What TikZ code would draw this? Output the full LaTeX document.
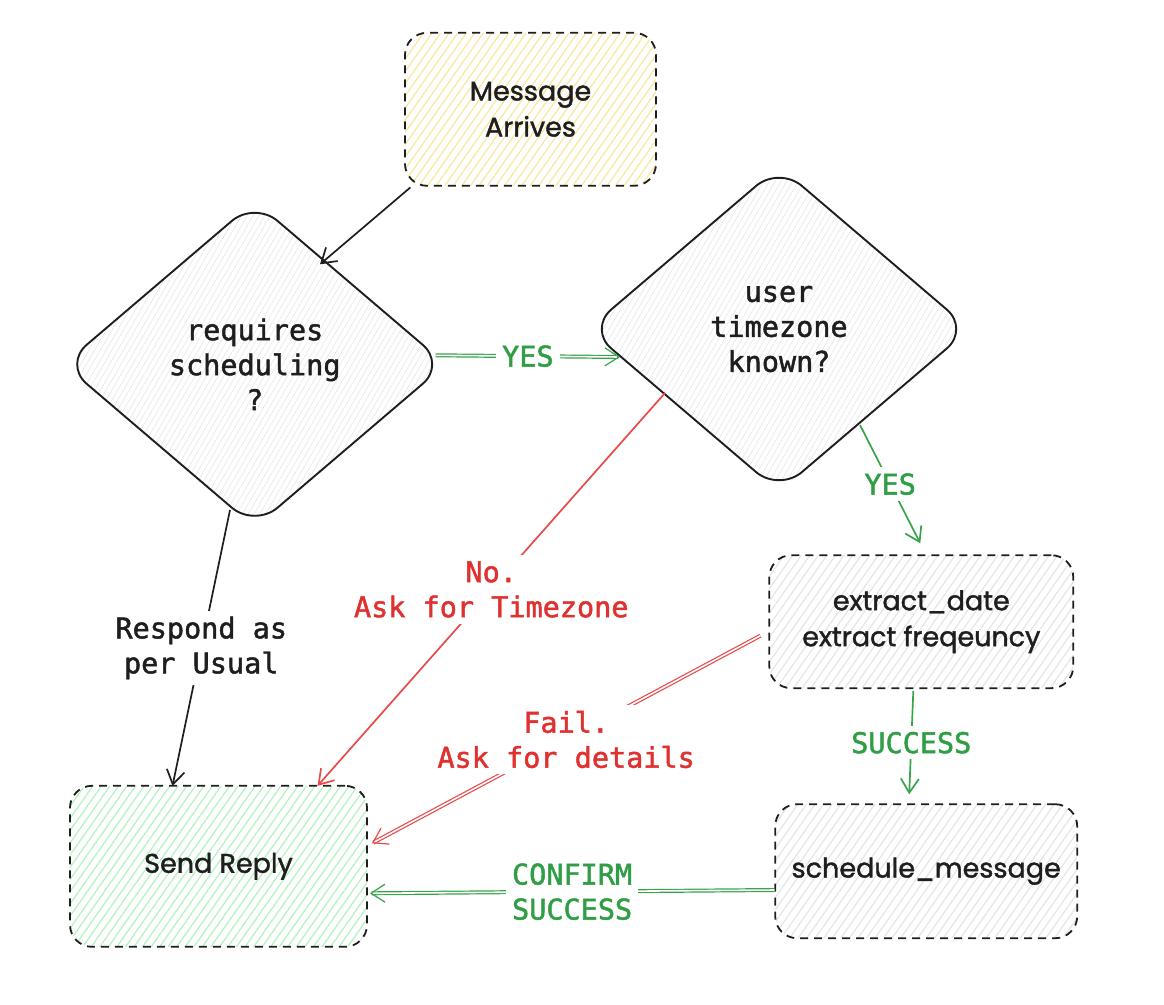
\documentclass[tikz,border=0pt]{standalone}
\usepackage{fontspec}
\setmonofont[FakeBold=1.6]{DejaVu Sans Mono}
\newfontfamily\handfont[FakeBold=1.4]{Poppins}
\usetikzlibrary{shapes.geometric,arrows.meta,patterns.meta,calc}
\definecolor{cgreen}{HTML}{2F9E44}
\definecolor{cred}{HTML}{E03131}
\definecolor{lred}{HTML}{E8494A}
\definecolor{lgreen}{HTML}{37A44B}
\definecolor{hyellow}{HTML}{FCE59A}
\definecolor{hgreen}{HTML}{B2F2BB}
\definecolor{hgray}{HTML}{E3E5E8}
\definecolor{ink}{HTML}{1E1E1E}
\tikzset{
  hbox/.style={draw=ink, line width=1.8pt, dash pattern=on 8pt off 6pt,
    rounded corners=22pt, inner sep=0pt, align=center,
    font=\handfont\fontsize{27}{36}\selectfont, text=ink,
    pattern={Lines[angle=55,distance=7pt,line width=1.2pt]}, pattern color=hgray},
  decision/.style={diamond, draw=ink, line width=1.9pt, rounded corners=30pt,
    inner sep=0pt, align=center, minimum width=382pt, minimum height=326pt,
    font=\ttfamily\fontsize{28.5}{35}\selectfont, text=ink,
    pattern={Lines[angle=60,distance=5pt,line width=0.6pt]}, pattern color=hgray},
  lbl/.style={font=\ttfamily\fontsize{28.5}{35}\selectfont, fill=white,
    inner sep=6pt, align=center},
  arr/.style={line width=1.7pt, -{Straight Barb[length=14pt,width=18pt,line width=1.7pt]}},
  dbl/.style={double=white, double distance=1.6pt, line width=1.2pt,
    -{Straight Barb[length=14pt,width=18pt]}},
}
\begin{document}
\begin{tikzpicture}[x=1pt,y=-1pt]
\useasboundingbox (0,0) rectangle (1164,1004);

% nodes
\node[hbox, pattern color=hyellow, minimum width=251pt, minimum height=153pt]
  (msg) at (530.5,109.3) {Message\\Arrives};
\node[decision] (d1) at (254.7,364.3) {requires\\scheduling\\?};
\node[decision] (d2) at (779,329) {user\\timezone\\known?};
\node[hbox, minimum width=304pt, minimum height=133pt]
  (extract) at (921.3,621.7) {extract\_date\\extract freqeuncy};
\node[hbox, minimum width=302pt, minimum height=134pt]
  (sched) at (926.2,871.2) {schedule\_message};
\node[hbox, pattern color=hgreen, minimum width=297pt, minimum height=161pt]
  (send) at (218.5,866.3) {Send Reply};

% connectors
\draw[arr, ink] ($(msg.south west)+(6,1)$) -- ($(d1)+(65.3,-100)$);

\draw[dbl, lgreen] ($(d1)+(181,-9)$) -- ($(d2)+(-159,28)$)
  node[lbl, midway, text=cgreen] {YES};

\draw[arr, lgreen] ($(d2)+(81,96)$) -- ($(extract.north)+(-1,-11)$)
  node[lbl, midway, text=cgreen] {YES};

\draw[arr, lred] ($(d2)+(-114,64)$) -- ($(send.north)+(99,1)$)
  node[lbl, midway, text=cred] {No.\\Ask for Timezone};

\draw[arr, ink] ($(d1)+(-24.7,145.7)$) -- ($(send.north)+(-46,1)$)
  node[lbl, midway, text=ink] {Respond as\\per Usual};

\draw[dbl, lred] ($(extract.west)+(-8,14)$) -- ($(send.east)+(4,-23)$)
  node[lbl, midway, text=cred] {Fail.\\Ask for details};

\draw[arr, lgreen] ($(extract.south)+(-8,2)$) -- ($(sched.north)+(-17,-9)$)
  node[lbl, midway, text=cgreen] {SUCCESS};

\draw[dbl, lgreen] (sched.west |- 0,890) -- ($(send.east)+(2,27)$)
  node[lbl, midway, text=cgreen] {CONFIRM\\SUCCESS};
\end{tikzpicture}
\end{document}
